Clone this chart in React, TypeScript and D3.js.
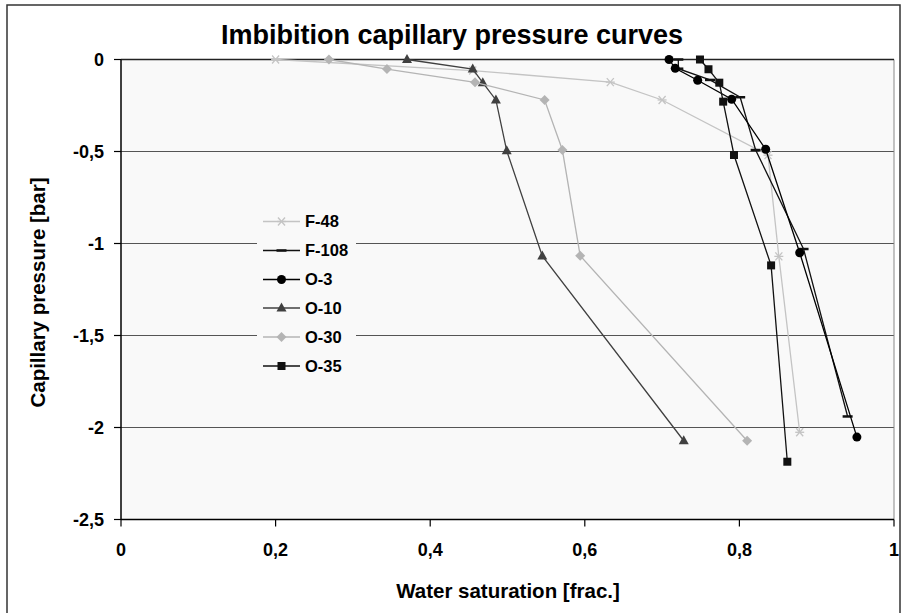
import React from "react";
import * as d3 from "d3";

const seriesNames = ["F-48", "F-108", "O-3", "O-10", "O-30", "O-35"];

const f48X = [0.2, 0.455, 0.633, 0.7, 0.837, 0.851, 0.878];
const f48Y = [0, -0.06, -0.123, -0.22, -0.52, -1.07, -2.026];

const f108X = [0.721, 0.721, 0.762, 0.801, 0.821, 0.883, 0.94];
const f108Y = [0, -0.05, -0.111, -0.205, -0.492, -1.03, -1.94];

const o3X = [0.709, 0.717, 0.746, 0.79, 0.834, 0.878, 0.952];
const o3Y = [0, -0.048, -0.113, -0.216, -0.488, -1.05, -2.052];

const o10X = [0.37, 0.455, 0.468, 0.485, 0.499, 0.545, 0.728];
const o10Y = [0, -0.052, -0.126, -0.22, -0.496, -1.068, -2.072];

const o30X = [0.269, 0.344, 0.458, 0.548, 0.571, 0.594, 0.81];
const o30Y = [0, -0.052, -0.124, -0.22, -0.492, -1.066, -2.072];

const o35X = [0.749, 0.76, 0.774, 0.779, 0.793, 0.841, 0.862];
const o35Y = [0, -0.053, -0.126, -0.229, -0.519, -1.119, -2.186];

const xTicks = [0, 0.2, 0.4, 0.6, 0.8, 1];
const yTicks = [0, -0.5, -1, -1.5, -2, -2.5];

const seriesX = [f48X, f108X, o3X, o10X, o30X, o35X];
const seriesY = [f48Y, f108Y, o3Y, o10Y, o30Y, o35Y];
const colors = ["#c4c4c4", "#111111", "#000000", "#404040", "#b4b4b4", "#111111"];
const markerTypes = ["star", "dash", "circle", "triangle", "diamond", "square"];

const FONT = "'Liberation Sans', Arial, sans-serif";

function fmt(v: number) {
  return String(v).replace(".", ",");
}

function Marker({ type, x, y, color }: { type: string; x: number; y: number; color: string }) {
  if (type === "circle") return <circle cx={x} cy={y} r={4.5} fill={color} />;
  if (type === "square") return <rect x={x - 4} y={y - 4} width={8} height={8} fill={color} />;
  if (type === "triangle")
    return <path d={`M${x},${y - 5.5}L${x + 5},${y + 3.5}L${x - 5},${y + 3.5}Z`} fill={color} />;
  if (type === "diamond")
    return <path d={`M${x},${y - 5}L${x + 5},${y}L${x},${y + 5}L${x - 5},${y}Z`} fill={color} />;
  if (type === "dash")
    return <line x1={x - 5} x2={x + 5} y1={y} y2={y} stroke={color} strokeWidth={2.5} />;
  // star
  return (
    <g stroke={color} strokeWidth={1.3}>
      <line x1={x - 4.5} x2={x + 4.5} y1={y} y2={y} />
      <line x1={x - 3.5} x2={x + 3.5} y1={y - 4} y2={y + 4} />
      <line x1={x - 3.5} x2={x + 3.5} y1={y + 4} y2={y - 4} />
    </g>
  );
}

export default function App() {
  const W = 904;
  const H = 613;
  const left = 121;
  const right = 894;
  const top = 59.5;
  const bottom = 519.5;
  const x = d3.scaleLinear().domain([0, 1]).range([left, right]);
  const y = d3.scaleLinear().domain([0, -2.5]).range([top, bottom]);
  const line = d3
    .line<[number, number]>()
    .x((d) => x(d[0]))
    .y((d) => y(d[1]));

  const legX = 257;
  const legY = 205;
  const legW = 99;
  const legH = 177;
  const rowY = [221.5, 250.5, 279.5, 308, 337, 366];

  return (
    <svg width={W} height={H} style={{ display: "block", position: "absolute", left: 0, top: 0 }} fontFamily={FONT}>
      <rect x={0} y={0} width={W} height={H} fill="#ffffff" />
      <rect x={7} y={5} width={893} height={640} fill="#ffffff" stroke="#333" strokeWidth={1.5} />
      <rect x={left} y={top} width={right - left} height={bottom - top} fill="#f9f9f9" />
      {yTicks.slice(1, 5).map((t) => (
        <line key={t} x1={left} x2={right} y1={y(t)} y2={y(t)} stroke="#555" strokeWidth={1.2} />
      ))}
      <line x1={right} x2={right} y1={top} y2={bottom} stroke="#888" strokeWidth={1} />
      <line x1={left} x2={right} y1={top} y2={top} stroke="#222" strokeWidth={1.5} />
      <line x1={left} x2={left} y1={top} y2={bottom} stroke="#000" strokeWidth={1.5} />
      <line x1={left} x2={right} y1={bottom} y2={bottom} stroke="#000" strokeWidth={1.5} />
      {yTicks.map((t) => (
        <g key={t}>
          <line x1={left - 7} x2={left} y1={y(t)} y2={y(t)} stroke="#000" strokeWidth={1.2} />
          <text x={left - 17} y={y(t)} dy="0.35em" textAnchor="end" fontSize={18} fontWeight="bold">
            {fmt(t)}
          </text>
        </g>
      ))}
      {xTicks.map((t) => (
        <g key={t}>
          <line x1={x(t)} x2={x(t)} y1={bottom} y2={bottom + 7} stroke="#000" strokeWidth={1.2} />
          <text x={x(t)} y={bottom + 36} textAnchor="middle" fontSize={18} fontWeight="bold">
            {fmt(t)}
          </text>
        </g>
      ))}
      {seriesNames.map((n, i) => {
        const pts = seriesX[i].map((v, j) => [v, seriesY[i][j]] as [number, number]);
        return (
          <g key={n}>
            <path d={line(pts) || ""} fill="none" stroke={colors[i]} strokeWidth={1.3} />
            {pts.map((p, j) => (
              <Marker key={j} type={markerTypes[i]} x={x(p[0])} y={y(p[1])} color={colors[i]} />
            ))}
          </g>
        );
      })}
      <rect x={legX} y={legY} width={legW} height={legH} fill="#f9f9f9" />
      {seriesNames.map((n, i) => (
        <g key={n}>
          <line x1={263} x2={300} y1={rowY[i]} y2={rowY[i]} stroke={colors[i]} strokeWidth={1.3} />
          <Marker type={markerTypes[i]} x={281.5} y={rowY[i]} color={colors[i]} />
          <text x={305} y={rowY[i]} dy="0.36em" fontSize={16.5} fontWeight="bold">
            {n}
          </text>
        </g>
      ))}
      <text x={452} y={44} textAnchor="middle" fontSize={27} fontWeight="bold">
        Imbibition capillary pressure curves
      </text>
      <text x={508} y={598} textAnchor="middle" fontSize={20.5} fontWeight="bold">
        Water saturation [frac.]
      </text>
      <text
        transform={`translate(45,${(top + bottom) / 2 + 3}) rotate(-90)`}
        textAnchor="middle"
        fontSize={20.5}
        fontWeight="bold"
      >
        Capillary pressure [bar]
      </text>
    </svg>
  );
}
